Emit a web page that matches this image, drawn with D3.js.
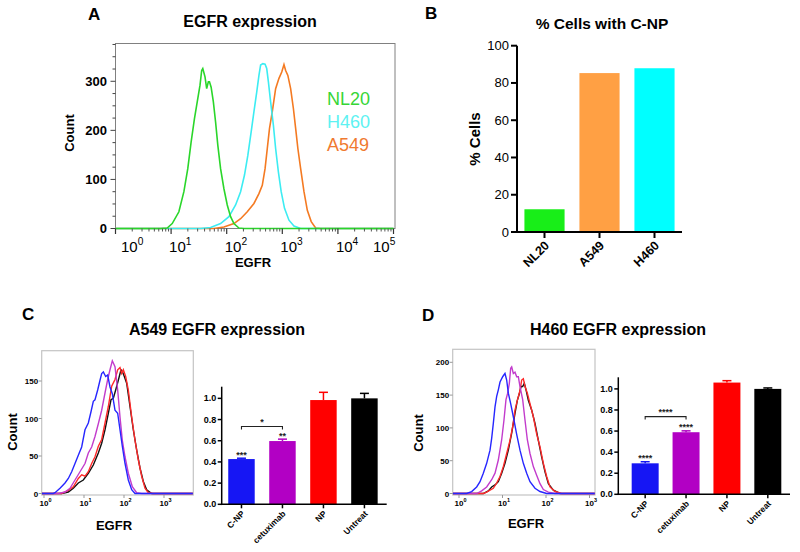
<!DOCTYPE html>
<html><head><meta charset="utf-8">
<script src="https://cdn.jsdelivr.net/npm/d3@7"></script>
<style>body{margin:0;background:#fff}svg{display:block;font-family:Arial,"Liberation Sans",sans-serif}</style>
</head><body><svg id="c" width="800" height="552"></svg>
<script>
// ---------- Panel A: EGFR histograms, [log10 EGFR, count] ----------
const aNL20 = [[0,0],[0.81,0],[0.93,1],[1.02,10],[1.14,34],[1.23,75],[1.30,122],[1.36,176],[1.42,224],[1.47,258],[1.52,292],[1.55,322],[1.57,326],[1.61,309],[1.64,285],[1.67,299],[1.69,299],[1.72,288],[1.76,258],[1.80,217],[1.84,170],[1.89,122],[1.95,81],[2.01,48],[2.07,24],[2.13,10],[2.22,1],[2.31,0],[5,0]];
const aH460 = [[0,0],[1.53,0],[1.71,2],[1.89,10],[2.04,24],[2.16,48],[2.25,75],[2.32,109],[2.38,149],[2.44,197],[2.49,238],[2.54,278],[2.58,312],[2.61,333],[2.65,336],[2.69,335],[2.72,326],[2.75,299],[2.79,258],[2.84,210],[2.88,163],[2.93,115],[2.98,75],[3.04,41],[3.12,17],[3.21,5],[3.33,0],[5,0]];
const aA549 = [[0,0],[1.77,0],[1.95,3],[2.13,10],[2.25,20],[2.37,34],[2.49,51],[2.58,71],[2.64,88],[2.69,122],[2.73,163],[2.77,204],[2.82,238],[2.88,285],[2.94,306],[2.99,319],[3.03,334],[3.06,322],[3.10,312],[3.15,285],[3.20,244],[3.24,204],[3.28,163],[3.33,122],[3.39,75],[3.45,37],[3.52,14],[3.60,1],[3.69,0],[5,0]];
const aYTicks = [0,100,200,300];
const aDecades = [0,1,2,3,4,5];

// ---------- Panel B ----------
const bCats = ["NL20","A549","H460"];
const bVals = [12.2, 85.3, 87.9];
const bColors = ["#18ee18","#ffa044","#00ffff"];
const bYTicks = [0,20,40,60,80,100];

// ---------- Panel C: A549 ----------
const cBlue = [[-0.05,0],[0.233,0],[0.275,1],[0.4,7],[0.525,14],[0.608,20],[0.692,29],[0.775,40],[0.858,51],[0.942,62],[1.025,85],[1.108,94],[1.175,109],[1.233,123],[1.275,125],[1.342,138],[1.4,151],[1.442,160],[1.483,162],[1.542,156],[1.592,158],[1.65,142],[1.708,133],[1.775,111],[1.842,107],[1.9,85],[1.958,63],[2.025,40],[2.108,18],[2.192,5],[2.275,0],[3.72,0]];
const cMagenta = [[-0.05,0],[0.358,0],[0.525,2],[0.65,7],[0.775,18],[0.9,29],[1.025,40],[1.108,54],[1.192,62],[1.275,76],[1.358,93],[1.442,111],[1.525,134],[1.592,152],[1.65,165],[1.708,177],[1.775,169],[1.842,138],[1.9,102],[1.958,71],[2.025,49],[2.108,27],[2.208,9],[2.317,1],[2.442,0],[3.72,0]];
const cRed = [[-0.05,0],[0.442,0],[0.608,4],[0.733,9],[0.858,20],[0.942,25],[1.025,23],[1.108,29],[1.192,40],[1.275,49],[1.358,63],[1.442,72],[1.525,94],[1.608,116],[1.692,143],[1.775,152],[1.842,165],[1.9,168],[1.942,160],[1.983,165],[2.042,156],[2.108,138],[2.192,102],[2.275,71],[2.358,45],[2.442,23],[2.525,7],[2.608,1],[2.733,0],[3.72,0]];
const cBlack = [[-0.05,0],[0.442,0],[0.608,2],[0.733,7],[0.858,14],[0.983,18],[1.108,27],[1.233,38],[1.358,54],[1.442,67],[1.525,85],[1.608,107],[1.675,125],[1.733,127],[1.792,138],[1.858,151],[1.925,165],[1.958,163],[2.008,156],[2.067,147],[2.15,116],[2.233,85],[2.317,58],[2.4,34],[2.483,16],[2.567,5],[2.692,0],[3.72,0]];
const cHistYTicks = [0,50,100,150];
const barCats = ["C-NP","cetuximab","NP","Untreat"];
const barColors = ["#1616f4","#b200c4","#ff0000","#000000"];
const cVals = [0.427, 0.597, 0.984, 1.0];
const cErr = [0.008, 0.018, 0.073, 0.047];
const cStars = ["***","**","",""];
const cBracket = {from:0, to:1, level:0.735, label:"*"};

// ---------- Panel D: H460 ----------
const dBlue = [[-0.14,0],[0.176,0],[0.291,3],[0.406,10],[0.483,18],[0.559,31],[0.636,46],[0.713,66],[0.751,84],[0.789,107],[0.828,132],[0.866,148],[0.904,158],[0.943,170],[1.004,178],[1.057,183],[1.096,173],[1.134,153],[1.188,137],[1.249,117],[1.326,90],[1.402,66],[1.479,46],[1.556,31],[1.632,18],[1.747,8],[1.862,3],[2.015,0],[3.12,0]];
const dMagenta = [[-0.14,0],[0.406,0],[0.521,4],[0.636,10],[0.751,21],[0.828,31],[0.904,51],[0.981,82],[1.034,112],[1.08,143],[1.119,153],[1.157,168],[1.188,191],[1.211,193],[1.249,183],[1.287,185],[1.326,178],[1.364,178],[1.402,163],[1.464,143],[1.517,112],[1.571,82],[1.632,61],[1.709,41],[1.785,28],[1.862,15],[1.939,6],[2.054,2],[2.207,0],[3.12,0]];
const dRed = [[-0.14,0],[0.559,0],[0.636,2],[0.713,5],[0.789,8],[0.866,16],[0.943,26],[1.019,41],[1.096,61],[1.172,81],[1.234,102],[1.287,127],[1.341,142],[1.402,157],[1.441,173],[1.479,175],[1.517,163],[1.571,153],[1.632,137],[1.709,117],[1.785,91],[1.862,71],[1.939,46],[2.015,26],[2.092,10],[2.207,3],[2.36,0],[3.12,0]];
const dBlack = [[-0.14,0],[0.559,0],[0.674,4],[0.751,10],[0.828,13],[0.904,18],[0.981,31],[1.057,46],[1.134,66],[1.211,92],[1.287,122],[1.341,142],[1.387,152],[1.426,163],[1.464,163],[1.502,168],[1.541,158],[1.594,142],[1.671,127],[1.747,107],[1.824,81],[1.9,56],[1.977,33],[2.054,15],[2.169,5],[2.322,0],[3.12,0]];
const dHistYTicks = [0,50,100,150,200];
const dVals = [0.294, 0.589, 1.06, 1.0];
const dErr = [0.015, 0.013, 0.018, 0.009];
const dStars = ["****","****","",""];
const dBracket = {from:0, to:1, level:0.737, label:"****"};
const barYTicks = [0,0.2,0.4,0.6,0.8,1.0];
const histDecades = [0,1,2,3];

const svg = d3.select("#c");
function text(x, y, s, size, weight, anchor, fill){
  return svg.append("text").attr("x",x).attr("y",y).text(s)
    .attr("font-size",size).attr("font-weight",weight||"normal")
    .attr("text-anchor",anchor||"start").attr("fill",fill||"#000");
}
function rotText(x, y, s, size, weight){
  return svg.append("text").attr("transform",`translate(${x},${y}) rotate(-90)`)
    .attr("text-anchor","middle").attr("font-size",size).attr("font-weight",weight).text(s);
}
function powLabel(x, y, e, size, weight, fill){
  const t = svg.append("text").attr("x",x).attr("y",y).attr("font-size",size)
    .attr("font-weight",weight).attr("fill",fill||"#000");
  t.append("tspan").text("10");
  t.append("tspan").attr("dy",-size*0.45).attr("font-size",size*0.68).text(e);
  return t;
}

// ================= Panel A =================
{
  const x = d3.scaleLog().domain([1,1e5]).range([115.5,393.5]);
  const y = d3.scaleLinear().domain([0,377]).range([228.5,43.5]);
  svg.append("rect").attr("x",115.5).attr("y",43.5).attr("width",279.5).attr("height",185)
    .attr("fill","none").attr("stroke","#808080").attr("stroke-width",1);
  const line = d3.line().x(d=>x(Math.pow(10,d[0]))).y(d=>y(d[1]));
  [[aA549,"#f47a22"],[aH460,"#3cecf2"],[aNL20,"#2ad62a"]].forEach(([d,c])=>{
    svg.append("path").datum(d).attr("d",line).attr("fill","none").attr("stroke",c).attr("stroke-width",1.6);
  });
  d3.range(0,376,25).forEach(v=>{
    const major = v%100===0;
    svg.append("line").attr("x1",115.5-(major?5:3)).attr("x2",115.5).attr("y1",y(v)).attr("y2",y(v))
      .attr("stroke","#444").attr("stroke-width",1);
  });
  aYTicks.forEach(v=>text(107,y(v)+4.5,v,13,"bold","end"));
  aDecades.forEach(e=>{
    svg.append("line").attr("x1",x(Math.pow(10,e))).attr("x2",x(Math.pow(10,e))).attr("y1",228.5).attr("y2",234)
      .attr("stroke","#333").attr("stroke-width",1.2);
    if(e<5) d3.range(2,10).forEach(m=>{
      const xv = x(m*Math.pow(10,e));
      svg.append("line").attr("x1",xv).attr("x2",xv).attr("y1",228.5).attr("y2",231.5).attr("stroke","#555").attr("stroke-width",1);
    });
    const px = Math.max(121, Math.min(373, x(Math.pow(10,e))-2));
    powLabel(px, 252, e, 15, "normal");
  });
  text(253,267,"EGFR",13,"bold","middle");
  rotText(74,133,"Count",13,"bold");
  text(250,27,"EGFR expression",16,"bold","middle");
  text(88,20,"A",17,"bold");
  text(327,105,"NL20",18,"normal","start","#36d636");
  text(327,128,"H460",18,"normal","start","#5ef2f2");
  text(327,151,"A549",18,"normal","start","#f07a30");
}

// ================= Panel B =================
{
  const x = d3.scaleBand().domain(bCats).range([517,682]).paddingInner(0.27).paddingOuter(0.135);
  const y = d3.scaleLinear().domain([0,100]).range([232,45.7]);
  svg.selectAll(".bbar").data(bCats).enter().append("rect")
    .attr("x",d=>x(d)).attr("width",x.bandwidth())
    .attr("y",(d,i)=>y(bVals[i])).attr("height",(d,i)=>y(0)-y(bVals[i]))
    .attr("fill",(d,i)=>bColors[i]);
  svg.append("line").attr("x1",517).attr("x2",517).attr("y1",y(100)).attr("y2",y(0)+1).attr("stroke","#000").attr("stroke-width",2);
  svg.append("line").attr("x1",516).attr("x2",682).attr("y1",y(0)).attr("y2",y(0)).attr("stroke","#000").attr("stroke-width",2);
  bYTicks.forEach(v=>{
    svg.append("line").attr("x1",511).attr("x2",517).attr("y1",y(v)).attr("y2",y(v)).attr("stroke","#000").attr("stroke-width",2);
    text(509,y(v)+4.5,v,13,"normal","end");
  });
  bCats.forEach(c=>{
    const cx = x(c)+x.bandwidth()/2;
    svg.append("line").attr("x1",cx).attr("x2",cx).attr("y1",y(0)).attr("y2",y(0)+6).attr("stroke","#000").attr("stroke-width",2);
    svg.append("text").attr("transform",`translate(${cx},${y(0)+7}) rotate(-45)`)
      .attr("text-anchor","end").attr("dy","0.72em").attr("dx","-0.1em")
      .attr("font-size",12.5).attr("font-weight","bold").text(c);
  });
  rotText(480,139,"% Cells",15,"bold");
  text(602,29,"% Cells with C-NP",15.5,"bold","middle");
  text(425,19,"B",17,"bold");
}

// ================= Histogram helper (C, D) =================
function hist(o){
  const x = d3.scaleLog().domain([1,1000]).range(o.xr);
  const y = d3.scaleLinear().domain(o.yd).range(o.yr);
  svg.append("rect").attr("x",o.box[0]).attr("y",o.box[1]).attr("width",o.box[2]-o.box[0]).attr("height",o.box[3]-o.box[1])
    .attr("fill","none").attr("stroke","#c4c4c4").attr("stroke-width",1.2);
  const line = d3.line().x(d=>x(Math.pow(10,d[0]))).y(d=>y(d[1]));
  o.series.forEach(([d,c])=>{
    svg.append("path").datum(d).attr("d",line).attr("fill","none").attr("stroke",c).attr("stroke-width",1.4);
  });
  o.yt.forEach(v=>{
    svg.append("line").attr("x1",o.box[0]-3).attr("x2",o.box[0]).attr("y1",y(v)).attr("y2",y(v)).attr("stroke","#999");
    text(o.box[0]-3.5,y(v)+3,v,8,"bold","end");
  });
  histDecades.forEach(e=>{
    const xv = x(Math.pow(10,e));
    svg.append("line").attr("x1",xv).attr("x2",xv).attr("y1",o.box[3]).attr("y2",o.box[3]+3).attr("stroke","#999");
    powLabel(xv-4.5, o.box[3]+10.5, e, 8, "bold");
  });
  return {x,y};
}

function bars(o){
  const x = d3.scaleBand().domain(barCats).range(o.xr).paddingInner(o.pi).paddingOuter(o.po).align(o.al);
  const y = d3.scaleLinear().domain([0,1.11]).range(o.yr);
  const x0 = o.xr[0];
  svg.selectAll(null).data(barCats).enter().append("rect")
    .attr("x",d=>x(d)).attr("width",x.bandwidth())
    .attr("y",(d,i)=>y(o.vals[i])).attr("height",(d,i)=>y(0)-y(o.vals[i]))
    .attr("fill",(d,i)=>barColors[i]);
  barCats.forEach((c,i)=>{
    const cx = x(c)+x.bandwidth()/2, top = y(o.vals[i]+o.err[i]);
    svg.append("line").attr("x1",cx).attr("x2",cx).attr("y1",y(o.vals[i])).attr("y2",top).attr("stroke",barColors[i]).attr("stroke-width",1.5);
    svg.append("line").attr("x1",cx-4.5).attr("x2",cx+4.5).attr("y1",top).attr("y2",top).attr("stroke",barColors[i]).attr("stroke-width",1.5);
    if(o.stars[i]) text(cx,top-0.5,o.stars[i],9,"bold","middle","#222");
    svg.append("line").attr("x1",cx).attr("x2",cx).attr("y1",y(0)).attr("y2",y(0)+4).attr("stroke","#000").attr("stroke-width",1.5);
    svg.append("text").attr("transform",`translate(${cx},${y(0)+5}) rotate(-45)`)
      .attr("text-anchor","end").attr("dy","0.72em").attr("dx","-0.1em")
      .attr("font-size",8.5).attr("font-weight","bold").text(c);
  });
  svg.append("line").attr("x1",x0).attr("x2",x0).attr("y1",y(1.11)).attr("y2",y(0)+0.75).attr("stroke","#000").attr("stroke-width",1.5);
  svg.append("line").attr("x1",x0-0.75).attr("x2",o.xr[1]).attr("y1",y(0)).attr("y2",y(0)).attr("stroke","#000").attr("stroke-width",1.5);
  barYTicks.forEach(v=>{
    svg.append("line").attr("x1",x0-4).attr("x2",x0).attr("y1",y(v)).attr("y2",y(v)).attr("stroke","#000").attr("stroke-width",1.5);
    text(x0-5.5,y(v)+3,v.toFixed(1),9,"bold","end");
  });
  const b = o.bracket;
  const bx1 = x(barCats[b.from])+x.bandwidth()/2, bx2 = x(barCats[b.to])+x.bandwidth()/2, by = y(b.level);
  svg.append("path").attr("d",`M${bx1},${by+3}V${by}H${bx2}V${by+3}`).attr("fill","none").attr("stroke","#222").attr("stroke-width",1.1);
  text((bx1+bx2)/2,by-1.5,b.label,9,"bold","middle","#222");
}

// ================= Panel C =================
hist({xr:[44,164], yd:[0,150], yr:[493.5,381], box:[41.7,350.7,193.3,495], yt:cHistYTicks,
  series:[[cBlack,"#111"],[cRed,"#ff2a2a"],[cMagenta,"#c23ccc"],[cBlue,"#2626ff"]]});
rotText(17,432,"Count",13,"bold");
text(114,530,"EGFR",13,"bold","middle");
bars({xr:[221.7,386.7], pi:0.354, po:0.19, al:0.42, yr:[504.3,386.7], vals:cVals, err:cErr, stars:cStars, bracket:cBracket});
text(217,335,"A549 EGFR expression",16,"bold","middle");
text(22,320,"C",17,"bold");

// ================= Panel D =================
hist({xr:[459,589.5], yd:[0,200], yr:[493.5,362.3], box:[452.7,349.3,595,495], yt:dHistYTicks,
  series:[[dBlack,"#111"],[dRed,"#ff2a2a"],[dMagenta,"#c23ccc"],[dBlue,"#2626ff"]]});
rotText(423,433,"Count",13,"bold");
text(526,528,"EGFR",13,"bold","middle");
bars({xr:[618.3,790], pi:0.34, po:0.27, al:0.606, yr:[494.3,377.3], vals:dVals, err:dErr, stars:dStars, bracket:dBracket});
text(618,335,"H460 EGFR expression",16,"bold","middle");
text(422,321,"D",17,"bold");
</script>
</body></html>
